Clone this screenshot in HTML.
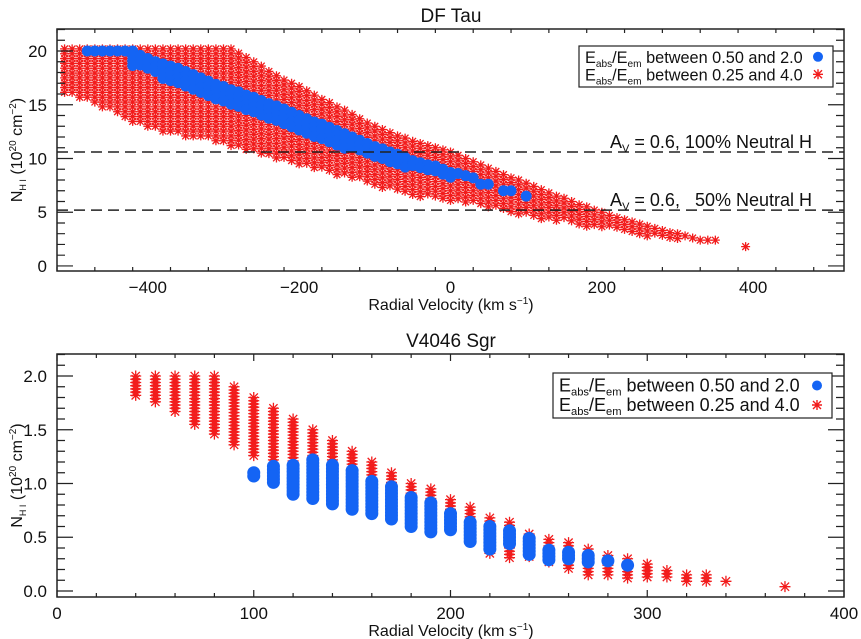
<!DOCTYPE html>
<html><head><meta charset="utf-8"><style>
body{margin:0;background:#fff}
svg{display:block;font-family:"Liberation Sans",sans-serif}
</style></head><body>
<svg id="c" width="861" height="639" viewBox="0 0 861 639"></svg>
<script>
// ---- DF Tau data ----
const topRedX=[-510,-500,-490,-480,-470,-460,-450,-440,-430,-420,-410,-400,-390,-380,-370,-360,-350,-340,-330,-320,-310,-300,-290,-280,-270,-260,-250,-240,-230,-220,-210,-200,-190,-180,-170,-160,-150,-140,-130,-120,-110,-100,-90,-80,-70,-60,-50,-40,-30,-20,-10,0,10,20,30,40,50,60,70,80,90,100,110,120,130,140,150,160,170,180,190,200,210,220,230,240,250,260,270,280,290,300,310,320,330,340,350,390];
const topRedHi=[20.2,20.2,20.2,20.2,20.2,20.2,20.2,20.2,20.2,20.2,20.2,20.2,20.2,20.2,20.2,20.2,20.2,20.2,20.2,20.2,20.2,20.2,20.2,19.8,19.4,19.0,18.6,18.1,17.7,17.3,17.0,16.7,16.3,15.9,15.5,15.2,14.8,14.5,14.1,13.7,13.3,13.0,12.7,12.4,12.1,11.9,11.6,11.4,11.2,11.0,10.8,10.6,10.3,10.0,9.7,9.4,9.1,8.8,8.5,8.2,8.0,7.7,7.4,7.1,6.8,6.5,6.3,6.0,5.7,5.5,5.2,5.0,4.7,4.5,4.3,4.1,3.9,3.7,3.5,3.3,3.1,3.0,2.8,2.6,2.4,2.4,2.4,1.8];
const topRedLo=[16.0,15.8,15.6,15.4,15.1,14.8,14.4,14.0,13.7,13.4,13.1,12.9,12.7,12.5,12.4,12.3,12.1,12.0,11.9,11.8,11.6,11.4,11.2,10.9,10.7,10.5,10.3,10.1,9.9,9.7,9.5,9.3,9.2,9.0,8.8,8.6,8.5,8.3,8.1,7.9,7.7,7.5,7.3,7.1,6.9,6.7,6.6,6.4,6.3,6.2,6.1,6.0,5.9,5.8,5.7,5.6,5.5,5.3,5.1,5.0,4.8,4.6,4.5,4.4,4.3,4.2,4.1,4.0,3.8,3.7,3.6,3.5,3.4,3.3,3.2,3.1,3.0,2.8,2.7,2.6,2.5,2.4,2.4,2.3,2.3,2.3,2.3,1.8];
const topBlueX=[-480,-470,-460,-450,-440,-430,-420,-410,-400,-390,-380,-370,-360,-350,-340,-330,-320,-310,-300,-290,-280,-270,-260,-250,-240,-230,-220,-210,-200,-190,-180,-170,-160,-150,-140,-130,-120,-110,-100,-90,-80,-70,-60,-50,-40,-30,-20,-10,0,10,20,30,40,50,70,80,100];
const topBlueHi=[20,20,20,20,20,20,20,19.6,19.3,19.0,18.8,18.6,18.4,18.1,17.8,17.5,17.2,16.9,16.7,16.4,16.2,15.9,15.7,15.4,15.1,14.9,14.6,14.3,14.0,13.7,13.4,13.2,12.9,12.6,12.3,12.0,11.7,11.4,11.1,10.9,10.6,10.4,10.1,9.8,9.6,9.4,9.3,9.0,8.7,8.6,8.4,8.2,7.6,7.6,7.0,7.0,6.5];
const topBlueLo=[20,20,20,20,20,20,18.6,18.3,18.0,17.7,17.4,17.1,16.8,16.5,16.2,15.9,15.6,15.4,15.1,14.8,14.6,14.3,14.0,13.7,13.4,13.2,12.9,12.6,12.4,12.1,11.9,11.6,11.4,11.1,10.9,10.7,10.4,10.2,10.0,9.8,9.6,9.4,9.2,9.0,8.8,8.6,8.5,8.3,8.1,8.2,8.2,8.2,7.6,7.6,7.0,7.0,6.5];
const topHLines=[10.6,5.2];
const topHLabels=["100% Neutral H","&#160;&#160;50% Neutral H"];
const topXTicks=[-400,-200,0,200,400];
const topYTicks=[0,5,10,15,20];
// ---- V4046 Sgr data ----
const botRedX=[40,50,60,70,80,90,100,110,120,130,140,150,160,170,180,190,200,210,220,230,240,250,260,270,280,290,300,310,320,330,340,370];
const botRedHi=[2.0,2.0,2.0,2.0,2.0,1.9,1.8,1.7,1.6,1.5,1.4,1.3,1.2,1.1,1.0,0.95,0.85,0.78,0.68,0.64,0.53,0.48,0.45,0.39,0.33,0.30,0.25,0.19,0.15,0.15,0.09,0.04];
const botRedLo=[1.82,1.74,1.65,1.55,1.44,1.34,1.24,1.2,1.2,1.2,1.2,1.1,1.0,0.95,0.85,0.8,0.7,0.66,0.35,0.29,0.30,0.25,0.20,0.15,0.14,0.11,0.11,0.13,0.09,0.09,0.09,0.04];
const botBlueX=[100,110,120,130,140,150,160,170,180,190,200,210,220,230,240,250,260,270,280,290];
const botBlueHi=[1.1,1.16,1.17,1.22,1.17,1.12,1.02,0.97,0.87,0.82,0.72,0.64,0.60,0.56,0.49,0.38,0.36,0.33,0.28,0.24];
const botBlueLo=[1.05,1.0,0.9,0.85,0.8,0.75,0.7,0.65,0.6,0.55,0.55,0.45,0.38,0.42,0.33,0.29,0.30,0.25,0.28,0.24];
const botXTicks=[0,100,200,300,400];
const botYTicks=["0.0","0.5","1.0","1.5","2.0"];

const NS="http://www.w3.org/2000/svg";
const svg=document.getElementById('c');
function mk(tag,attrs,parent){const e=document.createElementNS(NS,tag);for(const k in attrs)e.setAttribute(k,attrs[k]);(parent||svg).appendChild(e);return e;}
const RED="#f21c1c",BLUE="#1464f4";

function panel(cfg){
  const g=mk('g',{});
  
  
  const L=57,R=844,T=cfg.top,B=cfg.bottom;
  const sx=v=>L+(v-cfg.xmin)/(cfg.xmax-cfg.xmin)*(R-L);
  const sy=v=>B-(v-cfg.ymin)/(cfg.ymax-cfg.ymin)*(B-T);
  const clip=mk('clipPath',{id:'clip'+cfg.name},g);
  mk('rect',{x:L,y:T,width:R-L,height:B-T},clip);
  const marks=mk('g',{'clip-path':'url(#clip'+cfg.name+')'},g);
  const rg=mk('g',{stroke:RED,'stroke-width':1.3,fill:'none'},marks);
  
  
  const s=cfg.ast;
  for(let i=0;i<cfg.rx.length;i++){
    const hi=cfg.rhi[i],lo=cfg.rlo[i];
    let d='';
    for(let v=hi;v>=lo-1e-6;v-=cfg.rstep){
      const x=sx(cfg.rx[i]),y=sy(v);
      d+=`M${x-s},${y}h${2*s}M${x},${y-s}v${2*s}M${x-s*0.75},${y-s*0.75}l${1.5*s},${1.5*s}M${x-s*0.75},${y+s*0.75}l${1.5*s},${-1.5*s}`;
    }
    const p=mk('path',{d:d},rg);
    
    
  }
  const bg=mk('g',{fill:BLUE},marks);
  
  
  for(let i=0;i<cfg.bx.length;i++){
    for(let v=cfg.bhi[i];v>=cfg.blo[i]-1e-6;v-=cfg.bstep){
      const c=mk('circle',{cx:sx(cfg.bx[i]),cy:sy(v),r:cfg.br},bg);
      
      
    }
  }
  (cfg.hl||[]).forEach((v,i)=>{
    const ln=mk('line',{x1:L,x2:R,y1:sy(v),y2:sy(v),stroke:'#222','stroke-width':1.5,'stroke-dasharray':'11 6'},g);
    
    
    const t=mk('text',{x:812,y:sy(v)-4,'text-anchor':'end','font-size':18,fill:'#111'},g);
    
    
    t.innerHTML='A<tspan font-size="11" dy="4">V</tspan><tspan dy="-4"> = 0.6, '+cfg.hlab[i]+'</tspan>';
  });
  const fr=mk('rect',{x:L,y:T,width:R-L,height:B-T,fill:'none',stroke:'#222','stroke-width':1.5},g);
  
  
  let td='';
  for(let v=cfg.xmin;v<=cfg.xmax+1e-6;v+=cfg.xminor){
    const vv=Math.round(v*1000)/1000;
    const major=Math.abs(vv/cfg.xmajor-Math.round(vv/cfg.xmajor))<1e-6;
    const len=major?7:4,x=sx(vv);
    td+=`M${x},${B}v${-len}M${x},${T}v${len}`;
  }
  for(let v=Math.ceil(cfg.ymin/cfg.yminor)*cfg.yminor;v<=cfg.ymax+1e-6;v+=cfg.yminor){
    const vv=Math.round(v*1000)/1000;
    const major=Math.abs(vv/cfg.ymajor-Math.round(vv/cfg.ymajor))<1e-6;
    const len=major?16:8,y=sy(vv);
    td+=`M${L},${y}h${len}M${R},${y}h${-len}`;
  }
  mk('path',{d:td,stroke:'#222','stroke-width':1.2,fill:'none'},g);
  cfg.xt.forEach(v=>{
    const t=mk('text',{x:sx(v),y:B+22,'text-anchor':'middle','font-size':17,fill:'#111'},g);
    
    
    t.textContent=v<0?'\u2212'+(-v):String(v);
  });
  cfg.yt.forEach(v=>{
    const t=mk('text',{x:L-10,y:sy(+v)+6,'text-anchor':'end','font-size':17,fill:'#111'},g);
    
    
    t.textContent=v;
  });
  const ti=mk('text',{x:451,y:T-7,'text-anchor':'middle','font-size':19,fill:'#111'},g);
  
  
  ti.textContent=cfg.title;
  const xl=mk('text',{x:451,y:B+39,'text-anchor':'middle','font-size':16,fill:'#111'},g);
  
  
  xl.innerHTML='Radial Velocity (km s<tspan font-size="10" dy="-6">\u22121</tspan><tspan dy="6">)</tspan>';
  const yc=(T+B)/2;
  const yl=mk('text',{x:0,y:0,'text-anchor':'middle','font-size':16,fill:'#111',transform:`translate(22,${yc}) rotate(-90)`},g);
  
  
  yl.innerHTML='N<tspan font-size="9" dy="4">H I</tspan><tspan dy="-4"> (10</tspan><tspan font-size="10" dy="-6">20</tspan><tspan dy="6"> cm</tspan><tspan font-size="10" dy="-6">\u22122</tspan><tspan dy="6">)</tspan>';
  const lg=mk('g',{},g);
  
  
  const lb=cfg.leg, fs=cfg.legfs;
  mk('rect',{x:lb[0],y:lb[1],width:lb[2],height:lb[3],fill:'#fff',stroke:'#222','stroke-width':1.2},lg);
  const rows=[['0.50','2.0'],['0.25','4.0']];
  rows.forEach((r,i)=>{
    const y=lb[1]+fs+0.5+i*(lb[3]-6)/2;
    const t=mk('text',{x:lb[0]+6,y:y,'font-size':fs,fill:'#111'},lg);
    
    
    t.innerHTML=`E<tspan font-size="${fs*0.62}" dy="4">abs</tspan><tspan dy="-4">/E</tspan><tspan font-size="${fs*0.62}" dy="4">em</tspan><tspan dy="-4"> between ${r[0]} and ${r[1]}</tspan>`;
    const mx=lb[0]+lb[2]-15,my=y-6;
    if(i==0){mk('circle',{cx:mx,cy:my,r:5,fill:BLUE},lg);}
    else{mk('path',{d:`M${mx-5},${my}h10M${mx},${my-5}v10M${mx-4},${my-4}l8,8M${mx-4},${my+4}l8,-8`,stroke:RED,'stroke-width':1.4},lg);}
  });
}
panel({name:'df-tau-panel',title:'DF Tau',top:29,bottom:271,xmin:-520,xmax:520,ymin:-0.47,ymax:22.05,ast:4.5,br:5.5,
  rx:topRedX,rhi:topRedHi,rlo:topRedLo,rstep:0.45,bx:topBlueX,bhi:topBlueHi,blo:topBlueLo,bstep:0.45,
  hl:topHLines,hlab:topHLabels,xt:topXTicks,yt:topYTicks,xminor:50,xmajor:200,yminor:1,ymajor:5,leg:[579,46,254,41],legfs:16.3});
panel({name:'v4046-sgr-panel',title:'V4046 Sgr',top:354,bottom:597,xmin:0,xmax:400,ymin:-0.056,ymax:2.205,ast:5.5,br:6.5,
  rx:botRedX,rhi:botRedHi,rlo:botRedLo,rstep:0.03,bx:botBlueX,bhi:botBlueHi,blo:botBlueLo,bstep:0.03,
  xt:botXTicks,yt:botYTicks,xminor:20,xmajor:100,yminor:0.1,ymajor:0.5,leg:[553,373,279,45],legfs:18});
</script>
</body></html>
